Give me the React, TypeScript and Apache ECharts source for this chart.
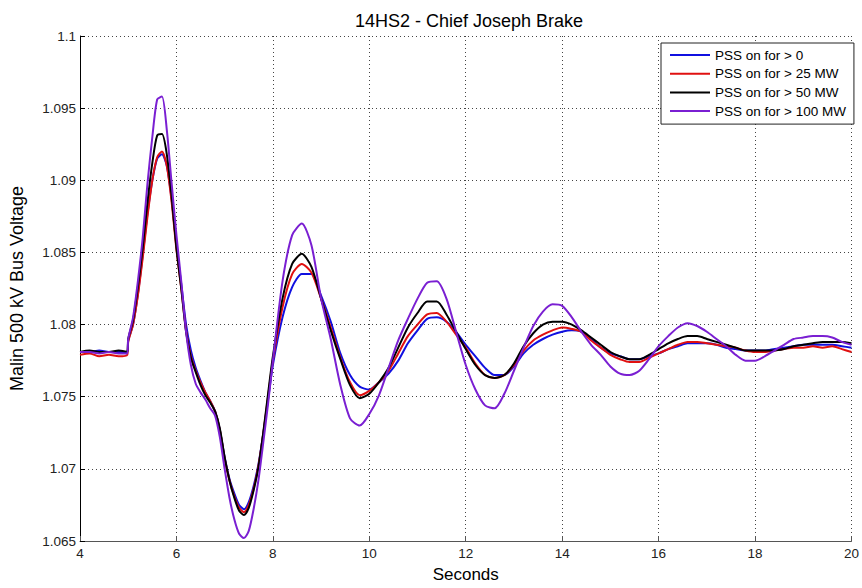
import React, { useEffect, useRef } from "react";
import * as echarts from "echarts";

const TITLE = "14HS2 - Chief Joseph Brake";
const X_NAME = "Seconds";
const Y_NAME = "Malin 500 kV Bus Voltage";
const SERIES_NAMES = ["PSS on for > 0", "PSS on for > 25 MW", "PSS on for > 50 MW", "PSS on for > 100 MW"];
const SERIES_COLORS = ["#1010e0", "#e01010", "#000000", "#7a1fd2"];

const TIME = [
  4.0, 4.2, 4.4, 4.6, 4.8, 4.98,
  5.0, 5.1, 5.2, 5.3, 5.4, 5.5, 5.6, 5.7, 5.8, 5.9,
  6.0, 6.1, 6.2, 6.3, 6.4, 6.5, 6.6, 6.7, 6.8, 6.9,
  7.0, 7.1, 7.2, 7.3, 7.4, 7.5, 7.6, 7.7, 7.8, 7.9,
  8.0, 8.2, 8.4, 8.6, 8.8, 9.0, 9.2, 9.4, 9.6, 9.8,
  10.0, 10.2, 10.4, 10.6, 10.8, 11.0, 11.2, 11.4, 11.6, 11.8,
  12.0, 12.2, 12.4, 12.6, 12.8, 13.0, 13.2, 13.4, 13.6, 13.8,
  14.0, 14.2, 14.4, 14.6, 14.8, 15.0, 15.2, 15.4, 15.6, 15.8,
  16.0, 16.2, 16.4, 16.6, 16.8, 17.0, 17.2, 17.4, 17.6, 17.8,
  18.0, 18.2, 18.4, 18.6, 18.8, 19.0, 19.2, 19.4, 19.6, 19.8, 20.0,
];

const PSS_0 = [
  1.0781, 1.0781, 1.0782, 1.0781, 1.0781, 1.0781,
  1.0789, 1.0800, 1.0821, 1.0848, 1.0877, 1.0900, 1.0915, 1.0918, 1.0910, 1.0887,
  1.0855, 1.0828, 1.0800, 1.0782, 1.0770, 1.0761, 1.0753, 1.0747, 1.0740, 1.0727,
  1.0708, 1.0693, 1.0683, 1.0675, 1.0672, 1.0677, 1.0688, 1.0703, 1.0724, 1.0748,
  1.0772, 1.0805, 1.0826, 1.0835, 1.0835, 1.0820, 1.0802, 1.0780, 1.0765, 1.0757,
  1.0755, 1.0760, 1.0766, 1.0775, 1.0787, 1.0796, 1.0804, 1.0805, 1.0802, 1.0795,
  1.0786, 1.0778, 1.0770, 1.0765, 1.0765, 1.0771, 1.0780, 1.0786, 1.0790, 1.0793,
  1.0795, 1.0796, 1.0795, 1.0790, 1.0784, 1.0780, 1.0778, 1.0776, 1.0776, 1.0778,
  1.0780, 1.0783, 1.0785, 1.0787, 1.0787, 1.0787, 1.0786, 1.0784, 1.0783, 1.0782,
  1.0782, 1.0782, 1.0783, 1.0784, 1.0785, 1.0786, 1.0786, 1.0786, 1.0786, 1.0785, 1.0784,
];

const PSS_25 = [
  1.0779, 1.0780, 1.0778, 1.0779, 1.0778, 1.0779,
  1.0788, 1.0800, 1.0820, 1.0846, 1.0875, 1.0900, 1.0916, 1.0920, 1.0910, 1.0885,
  1.0852, 1.0825, 1.0796, 1.0778, 1.0768, 1.0760, 1.0753, 1.0747, 1.0740, 1.0727,
  1.0707, 1.0692, 1.0681, 1.0673, 1.0670, 1.0675, 1.0686, 1.0702, 1.0724, 1.0750,
  1.0775, 1.0812, 1.0835, 1.0842, 1.0836, 1.0818, 1.0798, 1.0777, 1.0760, 1.0751,
  1.0754, 1.0760, 1.0768, 1.0780, 1.0792, 1.0800, 1.0807, 1.0808, 1.0802, 1.0793,
  1.0784, 1.0773, 1.0765, 1.0763, 1.0765, 1.0772, 1.0782, 1.0789, 1.0793, 1.0796,
  1.0798, 1.0797, 1.0795, 1.0789, 1.0784, 1.0779, 1.0776, 1.0774, 1.0774, 1.0777,
  1.0780, 1.0783, 1.0786, 1.0788, 1.0788, 1.0787, 1.0786, 1.0785, 1.0784, 1.0782,
  1.0781, 1.0781, 1.0782, 1.0783, 1.0784, 1.0784, 1.0785, 1.0784, 1.0785, 1.0783, 1.0781,
];

const PSS_50 = [
  1.0781, 1.0782, 1.0781, 1.0781, 1.0782, 1.0781,
  1.0790, 1.0803, 1.0826, 1.0853, 1.0885, 1.0912, 1.0931, 1.0932, 1.0918, 1.0889,
  1.0853, 1.0825, 1.0795, 1.0777, 1.0767, 1.0758, 1.0751, 1.0746, 1.0740, 1.0728,
  1.0708, 1.0692, 1.0680, 1.0671, 1.0668, 1.0673, 1.0685, 1.0701, 1.0725, 1.0752,
  1.0778, 1.0818, 1.0842, 1.0849, 1.0840, 1.0818, 1.0796, 1.0776, 1.0758, 1.0749,
  1.0752, 1.0760, 1.0770, 1.0784, 1.0798, 1.0808, 1.0816, 1.0816, 1.0807, 1.0795,
  1.0783, 1.0772, 1.0765, 1.0763, 1.0765, 1.0773, 1.0785, 1.0794, 1.0800, 1.0802,
  1.0802, 1.0800, 1.0796, 1.0791, 1.0786, 1.0781, 1.0778, 1.0776, 1.0776, 1.0779,
  1.0783, 1.0787, 1.0790, 1.0792, 1.0792, 1.0790, 1.0788, 1.0786, 1.0784, 1.0782,
  1.0782, 1.0782, 1.0782, 1.0783, 1.0785, 1.0786, 1.0787, 1.0788, 1.0788, 1.0788, 1.0787,
];

const PSS_100 = [
  1.0781, 1.0781, 1.0780, 1.0781, 1.0780, 1.0780,
  1.0790, 1.0805, 1.0830, 1.0860, 1.0898, 1.0930, 1.0956, 1.0958, 1.0935, 1.0898,
  1.0862, 1.0830, 1.0795, 1.0772, 1.0759, 1.0753, 1.0748, 1.0742, 1.0737, 1.0722,
  1.0700, 1.0680, 1.0665, 1.0655, 1.0652, 1.0657, 1.0672, 1.0692, 1.0718, 1.0745,
  1.0775, 1.0830, 1.0862, 1.0870, 1.0855, 1.0818, 1.0790, 1.0758, 1.0735, 1.0730,
  1.0738, 1.0751, 1.0770, 1.0789, 1.0804, 1.0818, 1.0829, 1.0830, 1.0818, 1.0795,
  1.0772, 1.0755, 1.0744, 1.0742, 1.0752, 1.0768, 1.0784, 1.0799, 1.0809, 1.0814,
  1.0813, 1.0805, 1.0795, 1.0786, 1.0779, 1.0771, 1.0766, 1.0765, 1.0768, 1.0776,
  1.0785, 1.0792, 1.0798, 1.0801, 1.0799, 1.0795, 1.0790, 1.0785, 1.0779, 1.0775,
  1.0775, 1.0778, 1.0782, 1.0786, 1.0790, 1.0791, 1.0792, 1.0792, 1.0791, 1.0788, 1.0786,
];

const SERIES_VALUES = [PSS_0, PSS_25, PSS_50, PSS_100];

const X_MIN = 4;
const X_MAX = 20;
const X_STEP = 2;
const Y_MIN = 1.065;
const Y_MAX = 1.1;
const Y_STEP = 0.005;

export default function App() {
  const ref = useRef<HTMLDivElement>(null);
  useEffect(() => {
    if (!ref.current) return;
    const chart = echarts.init(ref.current, undefined, { renderer: "svg" });
    const font = "Arial, 'Liberation Sans', Helvetica, sans-serif";
    const gridLine = { show: true, lineStyle: { color: "#444", width: 1, type: [1, 3] as any } };
    chart.setOption({
      animation: false,
      backgroundColor: "#ffffff",
      textStyle: { fontFamily: font },
      title: {
        text: TITLE,
        left: 464,
        textAlign: "center",
        top: 7,
        textStyle: { fontSize: 18, fontWeight: "normal", color: "#000", fontFamily: font },
      },
      legend: {
        orient: "vertical",
        left: 661,
        top: 43,
        padding: [5, 8, 6, 8],
        itemWidth: 40,
        itemHeight: 14,
        itemGap: 4.7,
        borderColor: "#222",
        borderWidth: 1,
        backgroundColor: "#fff",
        itemStyle: { color: "transparent", borderColor: "transparent", borderWidth: 0, opacity: 0 },
        textStyle: { fontSize: 13.5, color: "#000", fontFamily: font },
        data: SERIES_NAMES,
      },
      grid: { left: 74, right: 7, top: 36, bottom: 44, containLabel: false },
      xAxis: {
        type: "value",
        min: X_MIN,
        max: X_MAX,
        interval: X_STEP,
        name: X_NAME,
        nameLocation: "middle",
        nameGap: 25,
        nameTextStyle: { fontSize: 17, color: "#000", fontFamily: font },
        axisLine: { show: true, onZero: false, lineStyle: { color: "#555", width: 1 } },
        axisTick: { show: true, inside: true, length: 5, lineStyle: { color: "#555" } },
        axisLabel: { fontSize: 13.5, color: "#222", margin: 5, fontFamily: font },
        splitLine: gridLine,
      },
      yAxis: {
        type: "value",
        min: Y_MIN,
        max: Y_MAX,
        interval: Y_STEP,
        name: Y_NAME,
        nameLocation: "middle",
        nameGap: 54,
        nameTextStyle: { fontSize: 18, color: "#000", fontFamily: font },
        axisLine: { show: true, onZero: false, lineStyle: { color: "#000", width: 1 } },
        axisTick: { show: true, inside: true, length: 5, lineStyle: { color: "#000" } },
        axisLabel: {
          fontSize: 13.5,
          color: "#222",
          margin: 4,
          fontFamily: font,
          formatter: (v: number) => String(parseFloat(v.toFixed(3))),
        },
        splitLine: gridLine,
      },
      series: SERIES_NAMES.map((name, i) => ({
        name,
        type: "line",
        data: TIME.map((t, j) => [t, SERIES_VALUES[i][j]]),
        symbol: "none",
        showSymbol: false,
        smooth: 0.25,
        lineStyle: { color: SERIES_COLORS[i], width: 2 },
        itemStyle: { color: SERIES_COLORS[i] },
        z: 2 + i,
      })),
    });
    return () => chart.dispose();
  }, []);
  return (
    <div
      ref={ref}
      style={{ position: "fixed", left: 0, top: 0, width: 862, height: 588, background: "#fff" }}
    />
  );
}
